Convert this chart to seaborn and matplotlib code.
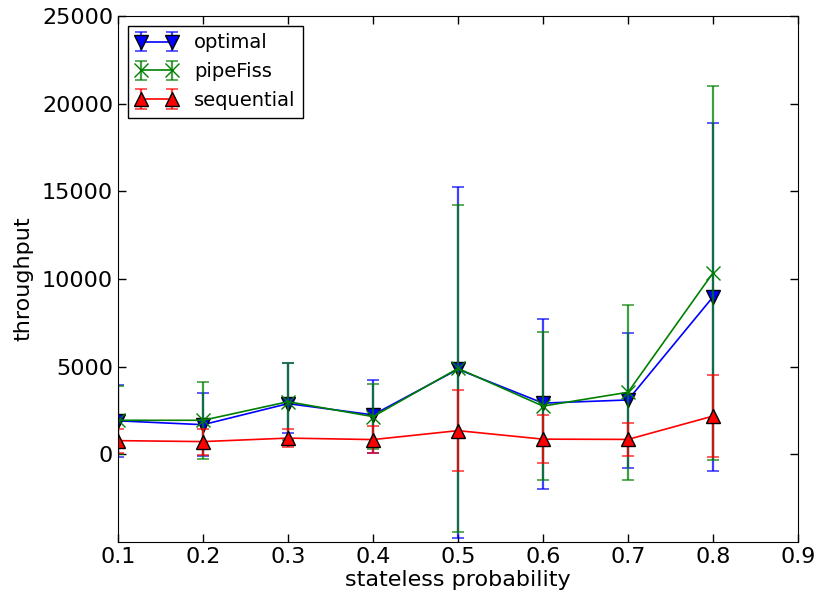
import matplotlib
matplotlib.use("Agg")
import matplotlib.pyplot as plt
from matplotlib.legend_handler import HandlerTuple
import numpy as np
import pandas as pd
import seaborn as sns

# stateless probability values on the x axis
prob = [0.1, 0.2, 0.3, 0.4, 0.5, 0.6, 0.7, 0.8]

# mean throughput per strategy
optimal = [1910, 1690, 2890, 2250, 4850, 2920, 3100, 8980]
pipefiss = [1940, 1940, 3000, 2150, 4900, 2750, 3540, 10350]
sequential = [780, 725, 925, 840, 1350, 865, 850, 2180]

# error bar extents below / above each mean
optimal_err_lo = [2060, 1800, 1650, 2150, 9610, 4880, 3880, 9930]
optimal_err_hi = [2050, 1780, 2290, 1970, 10370, 4780, 3820, 9930]
pipefiss_err_lo = [1950, 2225, 2190, 1850, 9330, 4200, 4990, 10690]
pipefiss_err_hi = [1950, 2190, 2190, 1880, 9310, 4200, 4960, 10670]
sequential_err_lo = [690, 745, 505, 760, 2300, 1365, 960, 2330]
sequential_err_hi = [690, 745, 505, 760, 2300, 1365, 960, 2330]

series = [
    ("optimal", optimal, optimal_err_lo, optimal_err_hi, "#0000ff", "v", "k"),
    ("pipeFiss", pipefiss, pipefiss_err_lo, pipefiss_err_hi, "#008000", "x", "#008000"),
    ("sequential", sequential, sequential_err_lo, sequential_err_hi, "#ff0000", "^", "k"),
]

sns.set_style("white", rc={
    "xtick.direction": "in",
    "ytick.direction": "in",
    "xtick.top": True,
    "ytick.right": True,
    "xtick.bottom": True,
    "ytick.left": True,
    "axes.edgecolor": "black",
    "axes.linewidth": 1.3,
    "text.color": "black",
    "axes.labelcolor": "black",
    "xtick.color": "black",
    "ytick.color": "black",
})
plt.rcParams["font.family"] = ["DejaVu Sans"]
plt.rcParams["xtick.major.size"] = 6
plt.rcParams["ytick.major.size"] = 6
plt.rcParams["xtick.major.width"] = 1.0
plt.rcParams["ytick.major.width"] = 1.0

fig = plt.figure(figsize=(8.2, 5.99), dpi=100)
ax = fig.add_axes([0.1439, 0.0952, 0.8293, 0.8781])

handles = []
labels = []
for name, vals, lo, hi, color, marker, edge in series:
    df = pd.DataFrame({"prob": prob, "throughput": vals})
    err = ax.errorbar(prob, vals, yerr=[lo, hi], fmt="none", ecolor=color,
                      elinewidth=1.6, capsize=4, capthick=1.2, alpha=0.75)
    sns.lineplot(data=df, x="prob", y="throughput", ax=ax, color=color,
                 linewidth=1.2, marker=marker, markersize=10,
                 markeredgecolor=edge, markeredgewidth=1.0,
                 errorbar=None, estimator=None, sort=False)
    line = ax.lines[-1]
    handles.append((err, line))
    labels.append(name)

ax.set_xlim(0.1, 0.9)
ax.set_ylim(-5000, 25000)
ax.set_xticks([0.1, 0.2, 0.3, 0.4, 0.5, 0.6, 0.7, 0.8, 0.9])
ax.set_yticks([0, 5000, 10000, 15000, 20000, 25000])
ax.tick_params(labelsize=16, colors="black")
ax.set_xlabel("stateless probability", fontsize=16, labelpad=2)
ax.set_ylabel("throughput", fontsize=16, labelpad=6)

leg = ax.legend(handles, labels, loc="upper left", fontsize=14, numpoints=2,
                handler_map={tuple: HandlerTuple(ndivide=1, pad=0)},
                handlelength=2.2, fancybox=False, framealpha=1,
                edgecolor="black", borderaxespad=0.5)
leg.get_frame().set_linewidth(1.0)

fig.savefig("out.png", dpi=100)
